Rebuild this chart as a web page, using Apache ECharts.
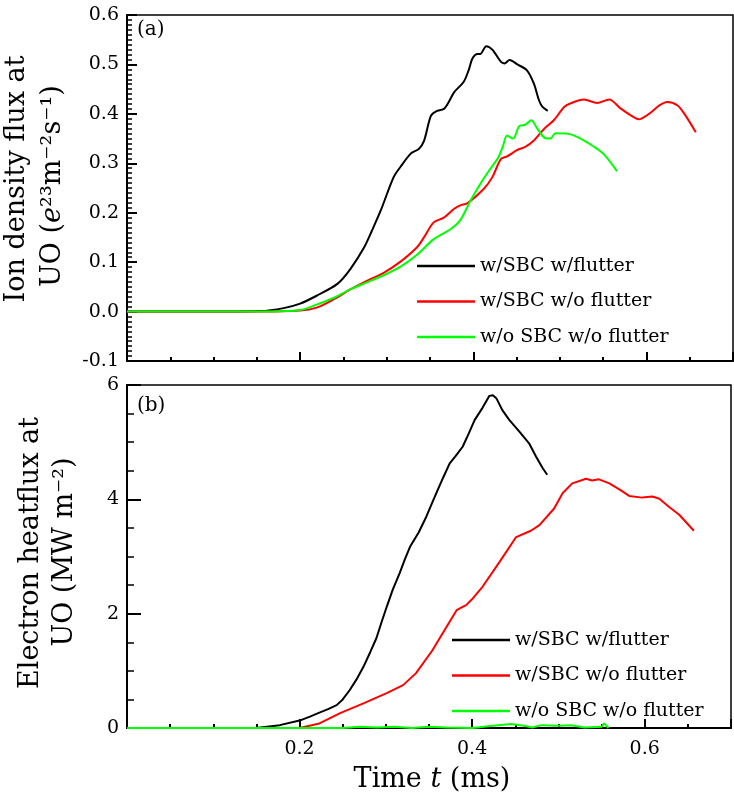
<!DOCTYPE html>
<html><head><meta charset="utf-8">
<script src="https://cdn.jsdelivr.net/npm/echarts/dist/echarts.min.js"></script>
<style>html,body{margin:0;padding:0;background:#fff}#c{width:734px;height:805px}</style>
</head><body><div id="c"></div>
<script>
const seriesNames = ['w/SBC w/flutter', 'w/SBC w/o flutter', 'w/o SBC w/o flutter'];
const seriesColors = ['#000000', '#ff0000', '#00ff00'];
const xTickLabels = ['0.2', '0.4', '0.6'];

// Panel (a): ion density flux [t (ms), value]
const ionBlack = [[0,0],[0.10,0],[0.154,0.001],[0.181,0.007],[0.200,0.016],[0.219,0.032],[0.243,0.056],[0.258,0.086],[0.274,0.13],[0.283,0.164],[0.293,0.204],[0.308,0.272],[0.316,0.293],[0.328,0.320],[0.337,0.329],[0.343,0.345],[0.351,0.396],[0.357,0.405],[0.366,0.41],[0.372,0.425],[0.378,0.444],[0.389,0.465],[0.395,0.49],[0.399,0.512],[0.405,0.521],[0.408,0.521],[0.415,0.537],[0.422,0.530],[0.432,0.505],[0.436,0.502],[0.442,0.509],[0.451,0.50],[0.462,0.488],[0.470,0.461],[0.476,0.427],[0.480,0.414],[0.486,0.406]];
const ionRed = [[0,0],[0.15,0],[0.2,0.002],[0.219,0.008],[0.239,0.025],[0.258,0.045],[0.277,0.062],[0.297,0.079],[0.316,0.101],[0.335,0.13],[0.343,0.15],[0.354,0.18],[0.366,0.19],[0.378,0.208],[0.385,0.215],[0.393,0.219],[0.412,0.248],[0.422,0.272],[0.432,0.309],[0.439,0.314],[0.451,0.327],[0.46,0.333],[0.47,0.346],[0.482,0.37],[0.493,0.387],[0.505,0.414],[0.512,0.421],[0.528,0.429],[0.543,0.422],[0.557,0.429],[0.57,0.411],[0.582,0.397],[0.591,0.389],[0.603,0.40],[0.615,0.417],[0.624,0.424],[0.636,0.417],[0.645,0.397],[0.657,0.363]];
const ionGreen = [[0,0],[0.16,0],[0.2,0.003],[0.219,0.014],[0.239,0.028],[0.258,0.045],[0.277,0.059],[0.297,0.074],[0.316,0.091],[0.335,0.115],[0.354,0.146],[0.374,0.167],[0.385,0.185],[0.397,0.225],[0.408,0.258],[0.418,0.285],[0.428,0.309],[0.434,0.333],[0.439,0.356],[0.446,0.35],[0.453,0.375],[0.46,0.378],[0.467,0.387],[0.474,0.37],[0.482,0.352],[0.489,0.35],[0.495,0.361],[0.509,0.36],[0.524,0.35],[0.539,0.334],[0.551,0.318],[0.566,0.284]];

// Panel (b): electron heat flux [t (ms), value]
const heatBlack = [[0,0],[0.15,0],[0.177,0.05],[0.2,0.13],[0.212,0.2],[0.223,0.27],[0.233,0.33],[0.243,0.40],[0.25,0.5],[0.258,0.66],[0.266,0.85],[0.274,1.07],[0.282,1.33],[0.289,1.57],[0.295,1.85],[0.301,2.12],[0.308,2.42],[0.316,2.71],[0.322,2.95],[0.328,3.17],[0.338,3.42],[0.347,3.70],[0.354,3.95],[0.36,4.16],[0.367,4.40],[0.374,4.63],[0.381,4.76],[0.389,4.92],[0.396,5.15],[0.403,5.39],[0.412,5.60],[0.42,5.81],[0.424,5.82],[0.428,5.77],[0.435,5.56],[0.443,5.39],[0.455,5.18],[0.466,4.98],[0.474,4.75],[0.482,4.54],[0.487,4.43]];
const heatRed = [[0,0],[0.2,0],[0.223,0.08],[0.247,0.26],[0.274,0.43],[0.301,0.61],[0.32,0.75],[0.335,0.96],[0.354,1.36],[0.366,1.66],[0.382,2.06],[0.389,2.12],[0.393,2.15],[0.401,2.27],[0.412,2.47],[0.432,2.91],[0.451,3.34],[0.468,3.45],[0.478,3.55],[0.495,3.84],[0.505,4.11],[0.516,4.28],[0.532,4.36],[0.539,4.33],[0.547,4.35],[0.559,4.28],[0.572,4.16],[0.582,4.06],[0.597,4.03],[0.609,4.05],[0.617,4.01],[0.628,3.87],[0.64,3.73],[0.657,3.45]];
const heatGreen = [[0,0],[0.25,0],[0.27,0.02],[0.29,0.01],[0.31,0.02],[0.33,0.0],[0.35,0.02],[0.37,0.01],[0.4,0],[0.43,0.05],[0.445,0.07],[0.46,0.04],[0.47,0.01],[0.48,0.05],[0.5,0.04],[0.515,0.05],[0.53,0.01],[0.55,0.02],[0.553,0.08],[0.558,0.0]];

const FONT = 'DejaVu Serif';
const chart = echarts.init(document.getElementById('c'), null, {renderer: 'canvas'});

function xAx(grid, interval, len, showLabel, showLine) {
  return {
    type: 'value', gridIndex: grid, min: 0, max: 0.7, interval: interval, position: 'bottom',
    axisLine: {show: showLine, onZero: false, lineStyle: {color: '#000', width: 2}},
    axisTick: {show: true, inside: true, length: len, lineStyle: {color: '#000', width: 2}},
    axisLabel: {show: showLabel, margin: 12, fontFamily: FONT, fontSize: 19, color: '#000',
      formatter: function (v) { const s = v.toFixed(1); return xTickLabels.indexOf(s) >= 0 ? s : ''; }},
    splitLine: {show: false}
  };
}
function yAx(grid, min, max, interval, minorSplit, majorLen, minorLen, fmt) {
  return {
    type: 'value', gridIndex: grid, min: min, max: max, interval: interval,
    axisLine: {show: true, onZero: false, lineStyle: {color: '#000', width: 2}},
    axisTick: {show: true, inside: true, length: majorLen, lineStyle: {color: '#000', width: 2}},
    minorTick: {show: true, splitNumber: minorSplit, length: minorLen, lineStyle: {color: '#000', width: 1.5}},
    axisLabel: {margin: 8, fontFamily: FONT, fontSize: 19, color: '#000', formatter: fmt},
    splitLine: {show: false}, minorSplitLine: {show: false}
  };
}
function line(name, idx, data, xi, yi, smooth) {
  return {
    name: name, type: 'line', xAxisIndex: xi, yAxisIndex: yi, data: data,
    symbol: 'none', smooth: smooth, lineStyle: {color: seriesColors[idx], width: 2},
    itemStyle: {color: seriesColors[idx]}
  };
}
const legendBase = {
  orient: 'vertical', icon: 'rect', itemWidth: 58, itemHeight: 2.5, itemGap: 13.5, selectedMode: false,
  data: seriesNames, textStyle: {fontFamily: FONT, fontSize: 19, color: '#000', lineHeight: 22}
};

chart.setOption({
  animation: false,
  backgroundColor: '#fff',
  grid: [
    {left: 127, top: 15, width: 606, height: 346, show: true, borderColor: '#000', borderWidth: 1.5},
    {left: 127, top: 385, width: 606, height: 343, show: true, borderColor: '#000', borderWidth: 1.5}
  ],
  xAxis: [
    xAx(0, 0.05, 4, false, true),
    xAx(0, 0.2, 9, false, false),
    xAx(1, 0.05, 4, false, true),
    xAx(1, 0.2, 9, true, false)
  ],
  yAxis: [
    yAx(0, -0.1, 0.6, 0.1, 10, 10, 5, function (v) { return v.toFixed(1); }),
    yAx(1, 0, 6, 2, 4, 14, 7, function (v) { return String(Math.round(v)); })
  ],
  legend: [
    Object.assign({}, legendBase, {left: 412, top: 250}),
    Object.assign({}, legendBase, {left: 447, top: 624})
  ],
  series: [
    line(seriesNames[0], 0, ionBlack, 0, 0, 0.3),
    line(seriesNames[1], 1, ionRed, 0, 0, 0.3),
    line(seriesNames[2], 2, ionGreen, 0, 0, 0.3),
    line(seriesNames[0], 0, heatBlack, 2, 1, false),
    line(seriesNames[1], 1, heatRed, 2, 1, false),
    line(seriesNames[2], 2, heatGreen, 2, 1, false)
  ],
  graphic: [
    {type: 'text', x: 137, y: 30, style: {text: '(a)', font: '20px "DejaVu Serif"', fill: '#000', textVerticalAlign: 'middle'}},
    {type: 'text', x: 137, y: 406, style: {text: '(b)', font: '20px "DejaVu Serif"', fill: '#000', textVerticalAlign: 'middle'}},
    {type: 'text', x: 17, y: 179, rotation: Math.PI / 2,
      style: {text: 'Ion density flux at', font: '27px "DejaVu Serif"', fill: '#000', textAlign: 'center', textVerticalAlign: 'middle'}},
    {type: 'text', x: 53, y: 186, rotation: Math.PI / 2,
      style: {text: '{n|UO (}{i|e}{n|²³m⁻²s⁻¹)}', textAlign: 'center', textVerticalAlign: 'middle',
        rich: {n: {fontFamily: FONT, fontSize: 27, fill: '#000'}, i: {fontFamily: FONT, fontStyle: 'italic', fontSize: 27, fill: '#000'}}}},
    {type: 'text', x: 31, y: 553, rotation: Math.PI / 2,
      style: {text: 'Electron heatflux at', font: '27px "DejaVu Serif"', fill: '#000', textAlign: 'center', textVerticalAlign: 'middle'}},
    {type: 'text', x: 65, y: 552, rotation: Math.PI / 2,
      style: {text: 'UO (MW m⁻²)', font: '27px "DejaVu Serif"', fill: '#000', textAlign: 'center', textVerticalAlign: 'middle'}},
    {type: 'text', x: 432, y: 780,
      style: {text: '{n|Time }{i|t}{n| (ms)}', textAlign: 'center', textVerticalAlign: 'middle',
        rich: {n: {fontFamily: FONT, fontSize: 27, fill: '#000'}, i: {fontFamily: FONT, fontStyle: 'italic', fontSize: 27, fill: '#000'}}}}
  ]
});
</script></body></html>
